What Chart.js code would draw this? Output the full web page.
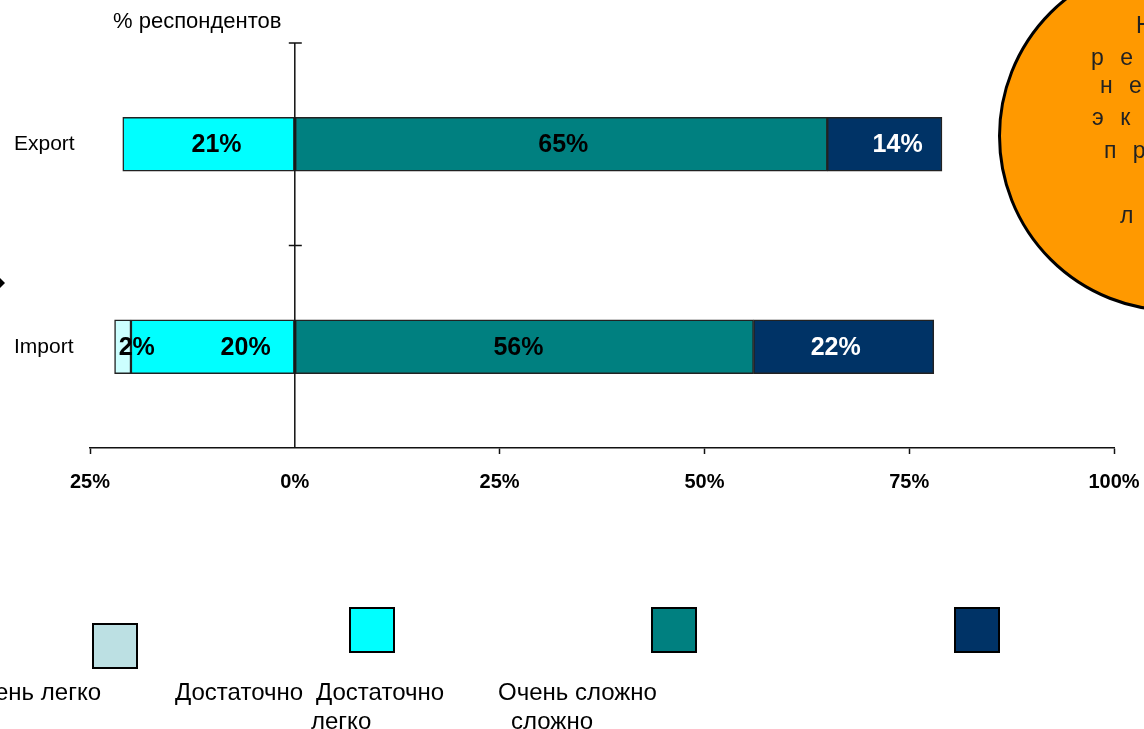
<!DOCTYPE html>
<html>
<head>
<meta charset="utf-8">
<script src="https://cdn.jsdelivr.net/npm/chart.js@4"></script>
<style>
  html, body { margin: 0; padding: 0; background: #fff; }
  body { width: 1144px; height: 729px; position: relative; overflow: hidden;
         font-family: "Liberation Sans", Arial, sans-serif; color: #000; }
  #wrap { position: absolute; left: 0; top: 0; width: 1144px; height: 729px; }
  .abs { position: absolute; white-space: nowrap; }
  .box { position: absolute; width: 42px; height: 42px; border: 2px solid #000; }
  .leg { position: absolute; white-space: nowrap; font-size: 24px; line-height: 29px; }
  #bubble { position: absolute; left: 998px; top: -40px; width: 346px; height: 346px;
            border: 3px solid #000; border-radius: 50%; background: #ff9900; }
  .bt { position: absolute; white-space: nowrap; font-size: 23px; color: #222; letter-spacing: 5px; }
  #arrow { position: absolute; left: 0; top: 278px; width: 0; height: 0;
           border-top: 5px solid transparent; border-bottom: 5px solid transparent; border-left: 5px solid #000; }
</style>
</head>
<body>
<div id="wrap"><canvas id="chart" width="1144" height="729"></canvas></div>

<div class="abs" style="left:113px; top:8px; font-size:22px;">% респондентов</div>

<!-- оранжевый круг справа -->
<div id="bubble"></div>
<div class="bt" style="left:1136px; top:12px;">Н</div>
<div class="bt" style="left:1091px; top:44px;">р е</div>
<div class="bt" style="left:1100px; top:72px;">н е</div>
<div class="bt" style="left:1092px; top:104px;">э к</div>
<div class="bt" style="left:1104px; top:137px;">п р</div>
<div class="bt" style="left:1120px; top:202px;">л</div>

<div id="arrow"></div>

<!-- легенда -->
<div class="box" style="left:92px; top:623px; background:#bce0e3;"></div>
<div class="box" style="left:349px; top:607px; background:#00ffff;"></div>
<div class="box" style="left:651px; top:607px; background:#008080;"></div>
<div class="box" style="left:954px; top:607px; background:#003366;"></div>
<div class="leg" style="right:1043px; top:677px;">Очень легко</div>
<div class="leg" style="left:175px; top:677px;">Достаточно</div>
<div class="leg" style="left:316px; top:677px;">Достаточно</div>
<div class="leg" style="left:311px; top:706px;">легко</div>
<div class="leg" style="left:498px; top:677px;">Очень сложно</div>
<div class="leg" style="left:511px; top:706px;">сложно</div>

<script>
// ─── данные ───
const categories = ['Export', 'Import'];
const veryEasy   = [null, -2];   // Очень легко
const fairlyEasy = [-21, -20];   // Достаточно легко
const fairlyHard = [65, 56];     // Достаточно сложно
const veryHard   = [14, 22];     // Очень сложно
const xTicks     = [-25, 0, 25, 50, 75, 100];

Chart.defaults.font.family = '"Liberation Sans", Arial, sans-serif';
Chart.defaults.color = '#000';

// подписи процентов внутри сегментов
const barLabels = {
    id: 'barLabels',
    afterDatasetsDraw(chart) {
        const { ctx } = chart;
        ctx.save();
        ctx.font = 'bold 25px "Liberation Sans", Arial, sans-serif';
        ctx.textAlign = 'center';
        ctx.textBaseline = 'middle';
        chart.data.datasets.forEach((ds, i) => {
            chart.getDatasetMeta(i).data.forEach((bar, j) => {
                const v = ds.data[j];
                if (v == null) return;
                const shift = ds.labelShift ? ds.labelShift[j] : 0;
                ctx.fillStyle = ds.labelColor;
                ctx.fillText(Math.abs(v) + '%', (bar.x + bar.base) / 2 + shift, bar.y + 1);
            });
        });
        ctx.restore();
    }
};

// вертикальная ось на нуле с короткими засечками между категориями
const zeroAxis = {
    id: 'zeroAxis',
    afterDatasetsDraw(chart) {
        const { ctx, chartArea, scales: { x, y } } = chart;
        const x0 = x.getPixelForValue(0);
        const half = (y.getPixelForValue(1) - y.getPixelForValue(0)) / 2;
        ctx.save();
        ctx.strokeStyle = '#111';
        ctx.lineWidth = 1.5;
        ctx.beginPath();
        ctx.moveTo(x0, chartArea.top);
        ctx.lineTo(x0, chartArea.bottom);
        categories.forEach((c, i) => {
            const yy = y.getPixelForValue(i) - half;
            ctx.moveTo(x0 - 6, yy);
            ctx.lineTo(x0 + 7, yy);
        });
        ctx.stroke();
        ctx.restore();
    }
};

const barStyle = { borderColor: '#222', borderWidth: 1.5, borderSkipped: false, barThickness: 54 };

new Chart(document.getElementById('chart').getContext('2d'), {
    type: 'bar',
    data: {
        labels: categories,
        datasets: [
            { label: 'Достаточно легко', data: fairlyEasy, backgroundColor: '#00ffff',
              labelColor: '#000', labelShift: [8, 33], ...barStyle },
            { label: 'Очень легко', data: veryEasy, backgroundColor: '#ccffff',
              labelColor: '#000', labelShift: [0, 14], ...barStyle },
            { label: 'Достаточно сложно', data: fairlyHard, backgroundColor: '#008080',
              labelColor: '#000', labelShift: [2, -6], ...barStyle },
            { label: 'Очень сложно', data: veryHard, backgroundColor: '#003366',
              labelColor: '#fff', labelShift: [13, -8], ...barStyle }
        ]
    },
    options: {
        responsive: false,
        animation: false,
        indexAxis: 'y',
        layout: { padding: { left: 14, top: 43, right: 30, bottom: 221 } },
        scales: {
            x: {
                type: 'linear',
                stacked: true,
                min: xTicks[0],
                max: xTicks[xTicks.length - 1],
                afterBuildTicks: s => { s.ticks = xTicks.map(v => ({ value: v })); },
                ticks: {
                    color: '#000',
                    font: { size: 20, weight: 'bold' },
                    padding: 16,
                    maxRotation: 0,
                    autoSkip: false,
                    callback: v => Math.abs(v) + '%'
                },
                grid: {
                    drawOnChartArea: false,
                    tickLength: 6,
                    tickWidth: 1.5,
                    tickColor: c => (c.tick && c.tick.value === 0) ? 'rgba(0,0,0,0)' : '#111'
                },
                border: { color: '#111', width: 1.5 },
                afterFit: s => { s.height = 60; s.paddingLeft = 0; s.paddingRight = 0; }
            },
            y: {
                stacked: true,
                ticks: { crossAlign: 'far', color: '#000', font: { size: 21 } },
                grid: { display: false },
                border: { display: false },
                afterFit: s => { s.width = 76; }
            }
        },
        plugins: {
            legend: { display: false },
            tooltip: { enabled: false }
        }
    },
    plugins: [barLabels, zeroAxis]
});
</script>
</body>
</html>
